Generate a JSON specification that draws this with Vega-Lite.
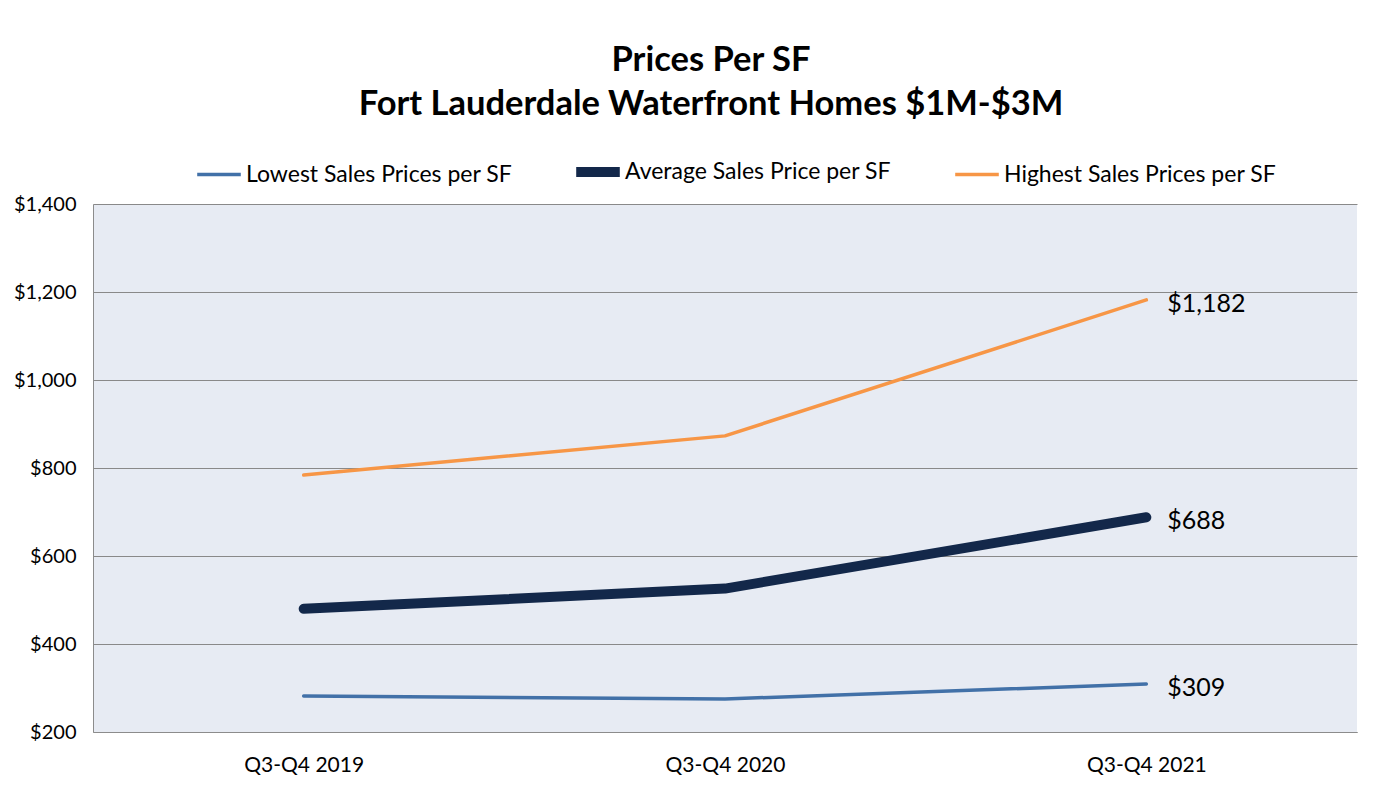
{
  "$schema": "https://vega.github.io/schema/vega-lite/v6.json",
  "autosize": {"type": "none"},
  "width": 1264,
  "height": 528,
  "padding": {"left": 93, "top": 204, "right": 30, "bottom": 62},
  "background": "white",
  "title": {
    "text": ["Prices Per SF", "Fort Lauderdale Waterfront Homes $1M-$3M"],
    "font": "Lato",
    "fontSize": 34.5,
    "fontWeight": "bold",
    "color": "black",
    "lineHeight": 44,
    "anchor": "middle",
    "dx": -14,
    "offset": 23
  },
  "data": {
    "values": [
      {"period": "Q3-Q4 2019", "series": "Lowest Sales Prices per SF", "price": 282},
      {"period": "Q3-Q4 2020", "series": "Lowest Sales Prices per SF", "price": 275},
      {"period": "Q3-Q4 2021", "series": "Lowest Sales Prices per SF", "price": 309},
      {"period": "Q3-Q4 2019", "series": "Average Sales Price per SF", "price": 480},
      {"period": "Q3-Q4 2020", "series": "Average Sales Price per SF", "price": 526},
      {"period": "Q3-Q4 2021", "series": "Average Sales Price per SF", "price": 688},
      {"period": "Q3-Q4 2019", "series": "Highest Sales Prices per SF", "price": 784},
      {"period": "Q3-Q4 2020", "series": "Highest Sales Prices per SF", "price": 873},
      {"period": "Q3-Q4 2021", "series": "Highest Sales Prices per SF", "price": 1182}
    ]
  },
  "encoding": {
    "x": {
      "field": "period",
      "type": "ordinal",
      "scale": {"type": "point", "padding": 0.5},
      "axis": {
        "title": null,
        "labelAngle": 0,
        "labelFont": "Lato",
        "labelFontSize": 21,
        "labelColor": "black",
        "labelPadding": 22,
        "ticks": false,
        "domainColor": "#8c8c8c",
        "grid": false
      }
    },
    "y": {
      "field": "price",
      "type": "quantitative",
      "scale": {"domain": [200, 1400], "nice": false, "zero": false},
      "axis": {
        "title": null,
        "values": [200, 400, 600, 800, 1000, 1200, 1400],
        "format": "$,.0f",
        "labelFont": "Lato",
        "labelFontSize": 20,
        "labelColor": "black",
        "labelPadding": 17,
        "ticks": false,
        "domainColor": "#8c8c8c",
        "grid": true,
        "gridColor": "#898989",
        "gridWidth": 1
      }
    }
  },
  "layer": [
    {
      "mark": {"type": "line", "strokeCap": "round", "strokeJoin": "round"},
      "encoding": {
        "color": {
          "field": "series",
          "type": "nominal",
          "scale": {
            "domain": ["Lowest Sales Prices per SF", "Average Sales Price per SF", "Highest Sales Prices per SF"],
            "range": ["#4271a8", "#13284a", "#f79646"]
          },
          "legend": {
            "title": null,
            "orient": "none",
            "legendX": 99,
            "legendY": -59,
            "direction": "horizontal",
            "columns": 3,
            "columnPadding": 37,
            "gridAlign": "all",
            "symbolType": "stroke",
            "symbolSize": 1900,
            "labelOffset": 0,
            "labelFont": "Lato",
            "labelFontSize": 23,
            "labelColor": "black",
            "labelLimit": 400
          }
        },
        "strokeWidth": {
          "field": "series",
          "type": "nominal",
          "scale": {
            "type": "ordinal",
            "domain": ["Lowest Sales Prices per SF", "Average Sales Price per SF", "Highest Sales Prices per SF"],
            "range": [3.5, 10, 3.5]
          },
          "legend": {
            "title": null,
            "orient": "none",
            "legendX": 99,
            "legendY": -59,
            "direction": "horizontal",
            "columns": 3,
            "columnPadding": 37,
            "gridAlign": "all",
            "symbolType": "stroke",
            "symbolSize": 1900,
            "labelOffset": 0,
            "labelFont": "Lato",
            "labelFontSize": 23,
            "labelColor": "black",
            "labelLimit": 400
          }
        }
      }
    },
    {
      "transform": [{"filter": "datum.period === 'Q3-Q4 2021'"}],
      "mark": {
        "type": "text",
        "align": "left",
        "baseline": "middle",
        "dx": 21,
        "dy": 4,
        "font": "Lato",
        "fontSize": 25,
        "color": "black"
      },
      "encoding": {
        "text": {"field": "price", "type": "quantitative", "format": "$,.0f"}
      }
    }
  ],
  "config": {
    "view": {"fill": "#e7ebf3", "stroke": null}
  }
}
